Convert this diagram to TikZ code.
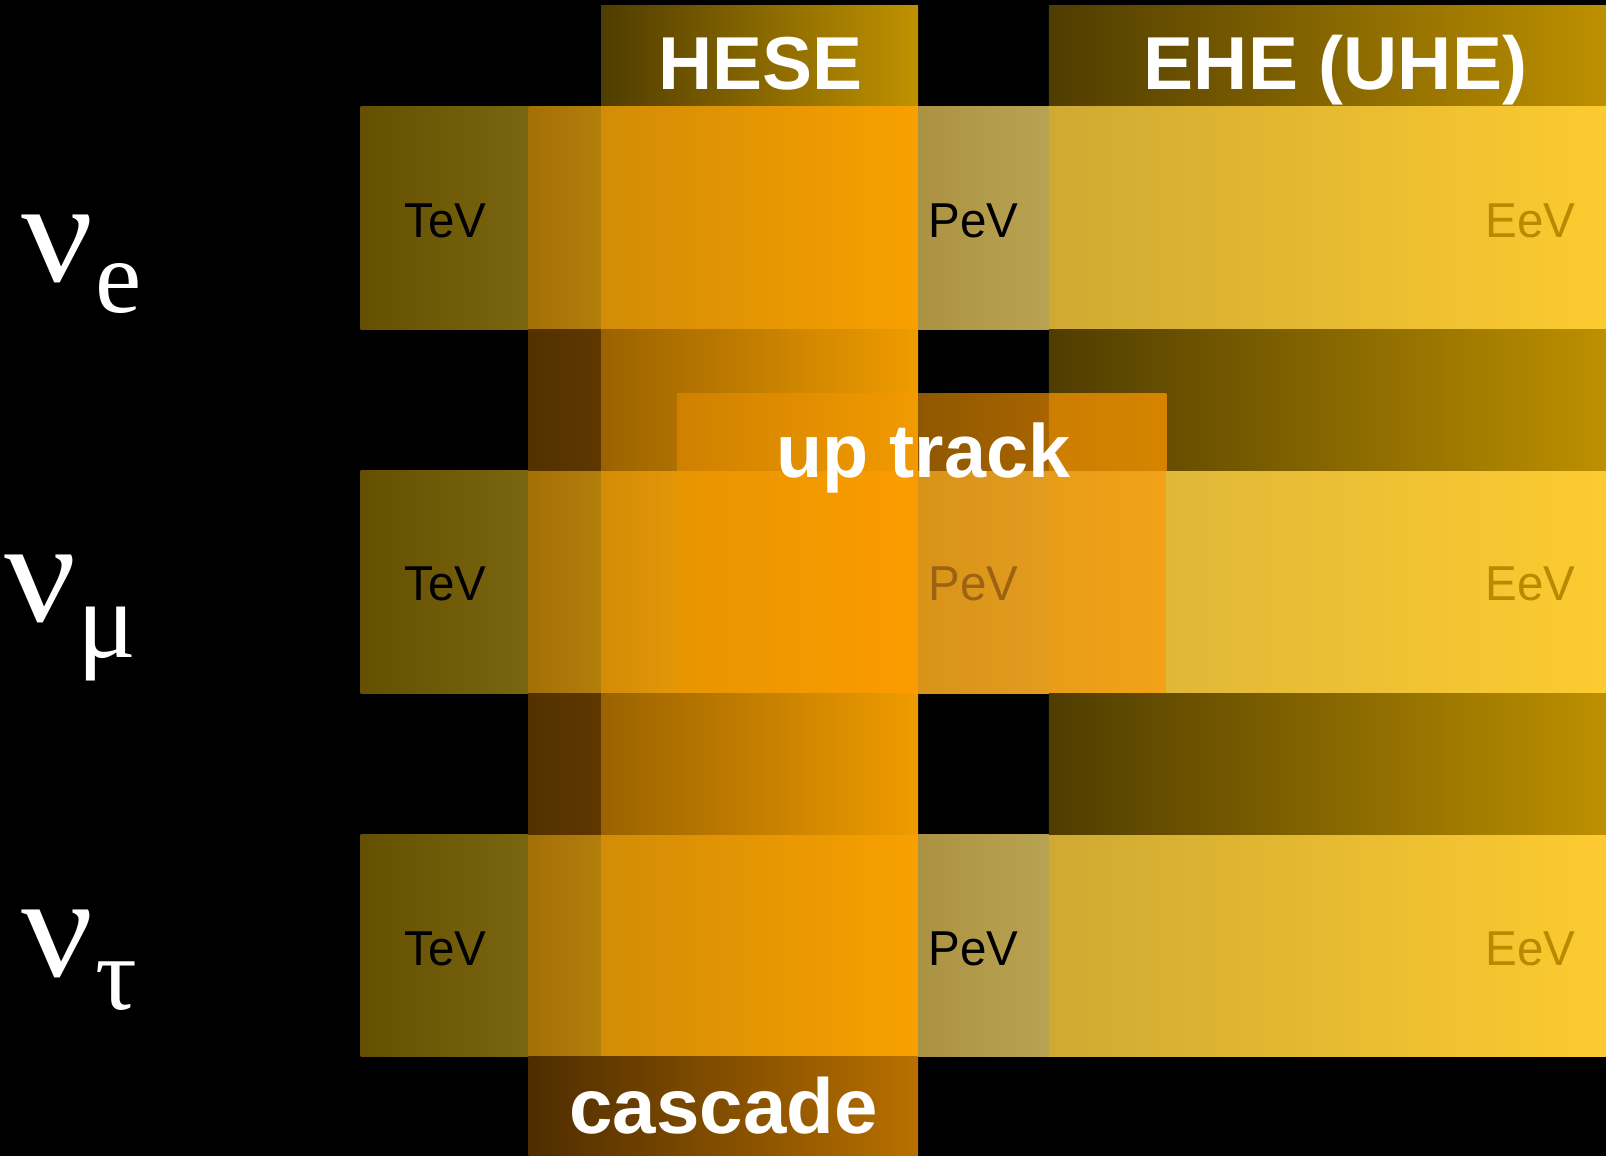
\documentclass[tikz,border=0pt]{standalone}
\usepackage{fontspec}
\usepackage{graphicx}
\setmainfont{Liberation Sans}
\newfontfamily\greekserif{Liberation Serif}
\definecolor{hdrL}{HTML}{4F3C00}
\definecolor{hdrR}{HTML}{C09200}
\definecolor{ehehR}{HTML}{BD9000}
\definecolor{aL}{HTML}{645000}
\definecolor{aR}{HTML}{7A6510}
\definecolor{bL}{HTML}{A37006}
\definecolor{bR}{HTML}{B47E0C}
\definecolor{cdL}{HTML}{D28C06}
\definecolor{cdR}{HTML}{F8A000}
\definecolor{eL}{HTML}{AB9242}
\definecolor{eR}{HTML}{B8A353}
\definecolor{fgL}{HTML}{CFA932}
\definecolor{fgR}{HTML}{FDCB30}
\definecolor{gbL}{HTML}{523100}
\definecolor{gbR}{HTML}{5F3700}
\definecolor{gcdL}{HTML}{9A6200}
\definecolor{gcdR}{HTML}{F09C00}
\definecolor{udL}{HTML}{CF8000}
\definecolor{udR}{HTML}{F29A00}
\definecolor{ueL}{HTML}{8F5800}
\definecolor{ueR}{HTML}{A86400}
\definecolor{ufL}{HTML}{CC7E00}
\definecolor{ufR}{HTML}{D68400}
\definecolor{rcR}{HTML}{E39608}
\definecolor{rdL}{HTML}{E89500}
\definecolor{rdR}{HTML}{FB9B00}
\definecolor{reL}{HTML}{D89418}
\definecolor{reR}{HTML}{E29C20}
\definecolor{rfL}{HTML}{E89C18}
\definecolor{rfR}{HTML}{F2A218}
\definecolor{rgL}{HTML}{E0B838}
\definecolor{casL}{HTML}{4E2C00}
\definecolor{casR}{HTML}{B87000}
\definecolor{pevmu}{HTML}{9E6312}
\definecolor{eevc}{HTML}{B88A00}
\newcommand\myband[6]{\fill[left color=#5,right color=#6] (#1,#3) rectangle (#2,#4);}
\newcommand\nuglyph{\scalebox{1.1}[1]{ν}}
\newcommand\ev[1]{\scalebox{0.97}[1]{#1}}
\begin{document}
\begin{tikzpicture}[x=1pt,y=-1pt,
  hdr/.style={text=white,font=\bfseries\fontsize{75}{75}\selectfont,inner sep=0pt,anchor=base},
  big/.style={text=white,font=\bfseries\fontsize{75.5}{75.5}\selectfont,inner sep=0pt,anchor=base},
  energy/.style={font=\fontsize{49}{49}\selectfont,inner sep=0pt,anchor=base},
  flav/.style={text=white,inner sep=0pt,anchor=base west,font=\greekserif\fontsize{145}{145}\selectfont}]
\fill[black] (0,0) rectangle (1606,1156);
\useasboundingbox (0,0) rectangle (1606,1156);
% headers
\myband{601}{918}{6}{106.5}{hdrL}{hdrR}
\myband{1048.8}{1606}{6}{106.5}{hdrL}{ehehR}
% rows 1 and 3
\foreach \ya/\yb in {106.5/329.8, 834.7/1056}{
  \myband{360.5}{528.5}{\ya}{\yb}{aL}{aR}
  \myband{528.5}{601}{\ya}{\yb}{bL}{bR}
  \myband{601}{918}{\ya}{\yb}{cdL}{cdR}
  \myband{918}{1048.8}{\ya}{\yb}{eL}{eR}
  \myband{1048.8}{1606}{\ya}{\yb}{fgL}{fgR}
}
% row 2
\myband{360.5}{528.5}{470}{693.4}{aL}{aR}
\myband{528.5}{601}{470}{693.4}{bL}{bR}
\myband{601}{677}{470}{693.4}{cdL}{rcR}
\myband{677}{918}{470}{693.4}{rdL}{rdR}
\myband{918}{1048.8}{470}{693.4}{reL}{reR}
\myband{1048.8}{1166.6}{470}{693.4}{rfL}{rfR}
\myband{1166.6}{1606}{470}{693.4}{rgL}{fgR}
% gaps
\foreach \ya/\yb in {329.8/470, 693.4/834.7}{
  \myband{528.5}{601}{\ya}{\yb}{gbL}{gbR}
  \myband{601}{918}{\ya}{\yb}{gcdL}{gcdR}
  \myband{1048.8}{1606}{\ya}{\yb}{hdrL}{ehehR}
}
% up track box above row 2
\myband{677}{918}{393.3}{470}{udL}{udR}
\myband{918}{1048.8}{393.3}{470}{ueL}{ueR}
\myband{1048.8}{1166.6}{393.3}{470}{ufL}{ufR}
% cascade foot
\myband{528.5}{918}{1056}{1156}{casL}{casR}
% titles
\node[hdr] (hese) at (760.5,89) {HESE};
\node[hdr] (ehe) at (1335.5,89) {EHE (UHE)};
\node[big] (uptrack) at (923.5,477) {up track};
\node[big,font=\bfseries\fontsize{78}{78}\selectfont] (cascade) at (723.5,1133) {cascade};
% energies
\node[energy] (tev1) at (445.5,237) {\ev{TeV}};
\node[energy] (pev1) at (973.5,237) {\ev{PeV}};
\node[energy,text=eevc] (eev1) at (1530.5,237) {\ev{EeV}};
\node[energy] (tev2) at (445.5,600.5) {\ev{TeV}};
\node[energy,text=pevmu] (pev2) at (973.5,600.5) {\ev{PeV}};
\node[energy,text=eevc] (eev2) at (1530.5,600.5) {\ev{EeV}};
\node[energy] (tev3) at (445.5,965) {\ev{TeV}};
\node[energy] (pev3) at (973.5,965) {\ev{PeV}};
\node[energy,text=eevc] (eev3) at (1530.5,965) {\ev{EeV}};
% flavours
\node[flav] (nue) at (21,281) {\nuglyph\hspace{2pt}\raisebox{-31pt}{\fontsize{104}{104}\selectfont e}};
\node[flav] (numu) at (4,621) {\nuglyph\hspace{1pt}\raisebox{-36pt}{\fontsize{110}{110}\selectfont μ}};
\node[flav] (nutau) at (21,976) {\nuglyph\hspace{2pt}\raisebox{-33pt}{\fontsize{104}{104}\selectfont τ}};
\end{tikzpicture}
\end{document}
